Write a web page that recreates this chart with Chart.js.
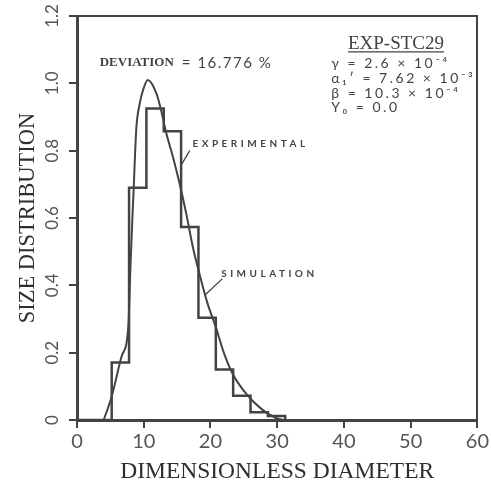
<!DOCTYPE html>
<html>
<head>
<meta charset="utf-8">
<script src="https://cdn.jsdelivr.net/npm/chart.js@4/dist/chart.umd.min.js"></script>
<style>
  html, body { margin: 0; padding: 0; background: #fff; }
  #wrap { width: 491px; height: 484px; }
</style>
</head>
<body>
<div id="wrap"><canvas id="sizeChart" width="491" height="484"></canvas></div>
<script>
// histogram: bin edges and measured heights (last point closes the step)
const binEdges   = [0, 5.2, 7.8, 10.4, 13.0, 15.6, 18.2, 20.8, 23.4, 26.0, 28.6, 31.2];
const expHeights = [0, 0.171, 0.69, 0.925, 0.858, 0.573, 0.304, 0.150, 0.072, 0.023, 0.012, 0];

// simulated size distribution
const simX = [4.0, 5.2, 6.7, 7.7, 8.0, 8.3, 8.5, 8.7, 8.9, 9.4, 9.9, 10.6, 11.9, 12.6, 13.4, 14.4,
              15.4, 16.4, 17.4, 18.4, 19.5, 20.8, 22.0, 23.3, 25.3, 27.8, 29.8, 31.0];
const simY = [0, 0.07, 0.19, 0.28, 0.45, 0.60, 0.69, 0.79, 0.87, 0.94, 0.98, 1.01, 0.97, 0.92, 0.85, 0.78,
              0.70, 0.61, 0.51, 0.43, 0.35, 0.276, 0.20, 0.138, 0.079, 0.03, 0.006, 0];

const xTicks = [0, 10, 20, 30, 40, 50, 60];
const yTicks = [0, 0.2, 0.4, 0.6, 0.8, 1.0, 1.2];
const yTickLabels = ['0', '0.2', '0.4', '0.6', '0.8', '1.0', '1.2'];

const ink = '#434343';
const serif = '"Liberation Serif", "DejaVu Serif", serif';
const sans = 'Lato, "DejaVu Sans", sans-serif';

// text notes drawn on top of the plot, placed in data units
const notes = {
    id: 'notes',
    afterDatasetsDraw(chart) {
        const { ctx } = chart;
        const xs = chart.scales.x, ys = chart.scales.y;
        const px = v => xs.getPixelForValue(v);
        const py = v => ys.getPixelForValue(v);

        ctx.save();
        ctx.fillStyle = ink;
        ctx.strokeStyle = ink;
        ctx.textBaseline = 'middle';
        ctx.textAlign = 'left';

        // deviation line
        ctx.font = 'bold 13px ' + serif;
        ctx.fillText('DEVIATION', px(3.4), py(1.06));
        const w = ctx.measureText('DEVIATION').width;
        ctx.font = '15px ' + sans;
        ctx.letterSpacing = '1.5px';
        ctx.fillText('= 16.776 %', px(3.4) + w + 8, py(1.06));
        ctx.letterSpacing = '0px';

        // run id, underlined
        ctx.font = '19px ' + serif;
        ctx.textAlign = 'center';
        ctx.fillText('EXP-STC29', px(47.8), py(1.117));
        const tw = ctx.measureText('EXP-STC29').width;
        ctx.lineWidth = 1.2;
        ctx.beginPath();
        ctx.moveTo(px(47.8) - tw / 2, py(1.117) + 8);
        ctx.lineTo(px(47.8) + tw / 2, py(1.117) + 8);
        ctx.stroke();

        // model parameters
        ctx.textAlign = 'left';
        ctx.font = '14px ' + sans;
        ctx.letterSpacing = '2.5px';
        const params = ['\u03b3 = 2.6 \u00d7 10\u207b\u2074',
                        '\u03b1\u2081\u2032 = 7.62 \u00d7 10\u207b\u00b3',
                        '\u03b2 = 10.3 \u00d7 10\u207b\u2074',
                        'Y\u2080 = 0.0'];
        const rows = [1.06, 1.013, 0.969, 0.927];
        params.forEach((t, i) => ctx.fillText(t, px(38.1), py(rows[i])));

        // curve labels with leader lines
        ctx.font = 'bold 10px ' + sans;
        ctx.letterSpacing = '3.5px';
        ctx.fillText('EXPERIMENTAL', px(17.3), py(0.82));
        ctx.fillText('SIMULATION', px(21.6), py(0.435));
        ctx.letterSpacing = '0px';
        ctx.lineWidth = 1.3;
        ctx.beginPath();
        ctx.moveTo(px(16.9), py(0.80));
        ctx.lineTo(px(15.7), py(0.76));
        ctx.moveTo(px(21.8), py(0.42));
        ctx.lineTo(px(19.1), py(0.37));
        ctx.stroke();
        ctx.restore();
    }
};

new Chart(document.getElementById('sizeChart').getContext('2d'), {
    type: 'line',
    data: {
        datasets: [
            {
                label: 'EXPERIMENTAL',
                data: binEdges.map((x, i) => ({ x: x, y: expHeights[i] })),
                stepped: 'before',
                borderColor: ink,
                borderWidth: 2.5,
                pointRadius: 0,
                fill: false
            },
            {
                label: 'SIMULATION',
                data: simX.map((x, i) => ({ x: x, y: simY[i] })),
                cubicInterpolationMode: 'monotone',
                borderColor: ink,
                borderWidth: 2,
                pointRadius: 0,
                fill: false
            }
        ]
    },
    options: {
        responsive: false,
        animation: false,
        layout: { padding: { top: 16, right: 13, left: 0, bottom: 0 } },
        plugins: { legend: { display: false }, tooltip: { enabled: false } },
        scales: {
            x: {
                type: 'linear',
                min: 0, max: 60,
                afterBuildTicks: s => { s.ticks = xTicks.map(v => ({ value: v })); },
                afterFit: s => { s.height = 64; },
                grid: { display: true, drawOnChartArea: false, drawTicks: true, tickLength: 8, color: ink, lineWidth: 2 },
                border: { display: true, color: ink, width: 3 },
                ticks: { color: '#555', padding: 2, font: { family: sans, size: 20 } },
                title: {
                    display: true, text: 'DIMENSIONLESS DIAMETER', color: '#2e2e2e',
                    font: { family: serif, size: 23.5, lineHeight: 1 }, padding: { top: 0, bottom: 0 }
                }
            },
            y: {
                type: 'linear',
                min: 0, max: 1.2,
                afterBuildTicks: s => { s.ticks = yTicks.map(v => ({ value: v })); },
                afterFit: s => { s.width = 77; },
                grid: { display: true, drawOnChartArea: false, drawTicks: true, tickLength: 8, color: ink, lineWidth: 2 },
                border: { display: true, color: ink, width: 3 },
                ticks: {
                    color: '#555', padding: 5, minRotation: 90, maxRotation: 90, crossAlign: 'center',
                    font: { family: sans, size: 17 },
                    callback: (v, i) => yTickLabels[i]
                },
                title: {
                    display: true, text: 'SIZE DISTRIBUTION', color: '#2e2e2e',
                    font: { family: serif, size: 22.5, lineHeight: 1 }, padding: { top: 17, bottom: 0 }
                }
            },
            xTop: {
                type: 'linear', position: 'top', display: true,
                afterFit: s => { s.height = 0; },
                grid: { display: false },
                border: { display: true, color: ink, width: 2 },
                ticks: { display: false }
            },
            yRight: {
                type: 'linear', position: 'right', display: true,
                afterFit: s => { s.width = 0; },
                grid: { display: false },
                border: { display: true, color: ink, width: 2 },
                ticks: { display: false }
            }
        }
    },
    plugins: [notes]
});
</script>
</body>
</html>
